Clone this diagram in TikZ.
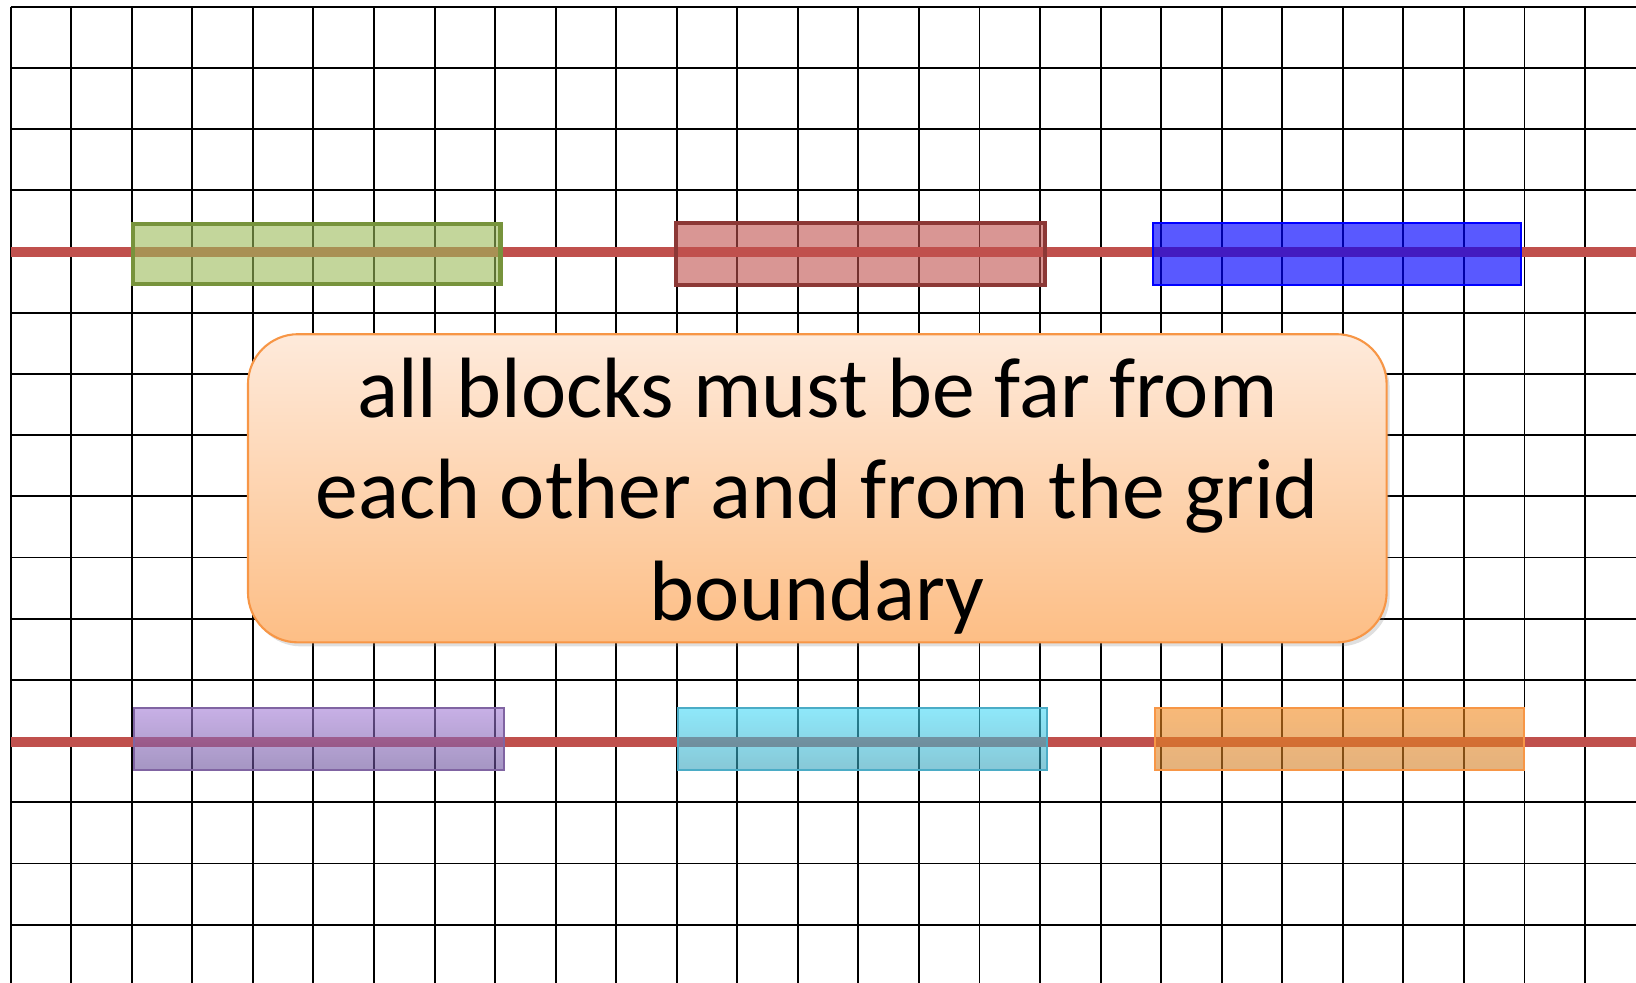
\documentclass[tikz,border=0pt]{standalone}
\usepackage{fontspec}
\setmainfont{Carlito}
\usetikzlibrary{shadows}
\definecolor{wirered}{HTML}{C0504D}
\definecolor{grnfill}{HTML}{9BBB59}
\definecolor{grnedge}{HTML}{77933C}
\definecolor{redfill}{HTML}{C0504D}
\definecolor{rededge}{HTML}{8C3836}
\definecolor{bluefill}{HTML}{0000FF}
\definecolor{purtop}{HTML}{A37BD5}
\definecolor{purbot}{HTML}{69509B}
\definecolor{puredge}{HTML}{8064A2}
\definecolor{cyantop}{HTML}{43D9F7}
\definecolor{cyanbot}{HTML}{37A3BC}
\definecolor{cyanedge}{HTML}{4BACC6}
\definecolor{orgtop}{HTML}{F38A1E}
\definecolor{orgbot}{HTML}{D27F26}
\definecolor{orgedge}{HTML}{F79646}
\definecolor{notetop}{HTML}{FEEADB}
\definecolor{notebot}{HTML}{FDBE85}
\tikzset{
  gridln/.style = {draw=black, line width=0.55pt},
  wire/.style   = {draw=wirered, line width=2.85pt},
  blk/.style    = {rectangle, inner sep=0pt, minimum width=3.69cm, minimum height=0.62cm,
                   fill opacity=0.6, draw opacity=1, line width=0.57pt},
  note/.style   = {rectangle, rounded corners=0.5cm, draw=orgedge, line width=0.6pt,
                   top color=notetop, bottom color=notebot, inner sep=0pt,
                   minimum width=11.38cm, minimum height=3.08cm,
                   drop shadow={shadow xshift=0.03cm, shadow yshift=-0.04cm, opacity=0.25}},
  msg/.style    = {align=center, inner sep=0pt, font=\fontsize{24.35}{28.8}\selectfont},
}
\begin{document}
\begin{tikzpicture}[x=0.01cm, y=-0.01cm]
  \useasboundingbox (0,0) rectangle (1636,983);
  % grid
  \foreach \i in {0,...,26}
    \draw[gridln] (10.7+60.55*\i, 6.7) -- (10.7+60.55*\i, 983);
  \foreach \j in {0,...,15}
    \draw[gridln] (10.7, 6.7+61.2*\j) -- (1636, 6.7+61.2*\j);

  % tracks
  \draw[wire] (10.7,251.7) -- (1636,251.7);
  \draw[wire] (10.7,741.7) -- (1636,741.7);

  % blocks, upper row
  \node[blk, draw=grnedge, fill=grnfill, line width=1.28pt, minimum width=3.675cm, minimum height=0.598cm] (grnblk) at (316.7,253.9) {};
  \node[blk, draw=rededge, fill=redfill, line width=1.14pt, minimum width=3.693cm, minimum height=0.623cm] (redblk) at (860.7,254.2) {};
  \node[blk, draw=bluefill, fill=bluefill, fill opacity=0.65, minimum width=3.683cm, minimum height=0.614cm] (blueblk) at (1337.2,254) {};
  % blocks, lower row
  \node[blk, draw=puredge, top color=purtop, bottom color=purbot] (purblk) at (319.1,738.7) {};
  \node[blk, draw=cyanedge, top color=cyantop, bottom color=cyanbot] (cyanblk) at (862.7,738.7) {};
  \node[blk, draw=orgedge, top color=orgtop, bottom color=orgbot] (orgblk) at (1339.5,738.7) {};

  % callout
  \node[note] (note) at (817.3,488.3) {};
  \node[msg] (msg) at (817.3,496) {all blocks must be far from\\each other and from the grid\\boundary};
\end{tikzpicture}
\end{document}
